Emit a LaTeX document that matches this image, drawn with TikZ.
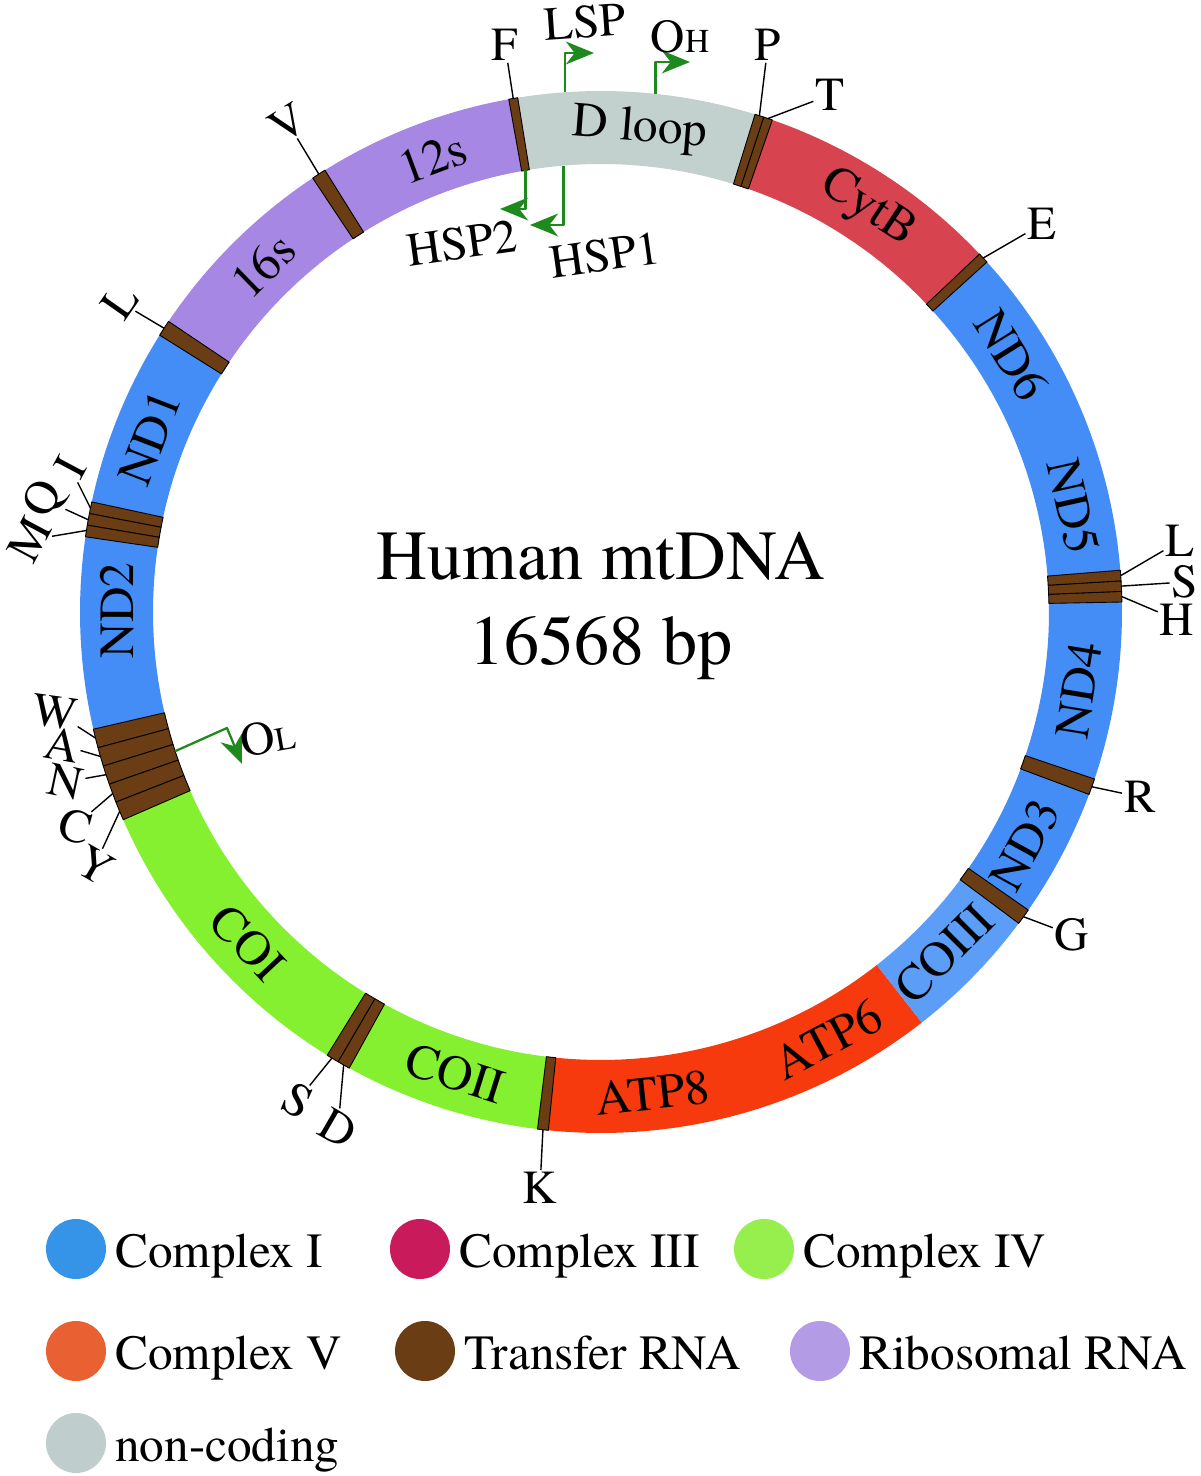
\documentclass[tikz,border=0pt]{standalone}
\usepackage{fontspec}
\setmainfont{texgyretermes-regular.otf}
\usetikzlibrary{arrows.meta}
\definecolor{ndblue}{HTML}{448DF6}
\definecolor{coblue}{HTML}{5B9DF7}
\definecolor{cytred}{HTML}{D7434E}
\definecolor{grn}{HTML}{84F02F}
\definecolor{atpred}{HTML}{F63A0E}
\definecolor{rrna}{HTML}{A687E4}
\definecolor{dloop}{HTML}{C2D0CE}
\definecolor{trna}{HTML}{6A3D14}
\definecolor{promgreen}{HTML}{1E8A1E}
\definecolor{cI}{HTML}{3593E8}
\definecolor{cIII}{HTML}{C91A5B}
\definecolor{cIV}{HTML}{96EF4C}
\definecolor{cV}{HTML}{E96033}
\definecolor{rrnaleg}{HTML}{B49BE6}
\definecolor{ncleg}{HTML}{BFCECC}
\begin{document}
\begin{tikzpicture}[x=0.02cm,y=0.02cm,line join=round,
	lbl/.style={font=\fontsize{27}{27}\selectfont,inner sep=1pt},
	gene/.style={font=\fontsize{28}{28}\selectfont,inner sep=0pt},
	lead/.style={line width=0.8pt},
	band/.style={fill=trna,draw=black,line width=0.5pt},
	prom/.style={-{Stealth[length=16pt,width=13pt,inset=5pt]},draw=promgreen,line width=1.3pt},
	legtext/.style={font=\fontsize{28}{28}\selectfont,anchor=base west,inner sep=0pt}]
	\useasboundingbox (-601,-864) rectangle (599,612);
	\def\rout{521}
	\def\rin{448}
	\def\rmid{484}
	% genes
	\foreach \a/\b/\c in {-36.7/42.8/ndblue,42.8/71.3/cytred,71.3/99.7/dloop,99.7/147/rrna,
		147/202.5/ndblue,202.5/263.6/grn,263.6/308/atpred,308/323.6/coblue}
	\fill[\c] (\a:\rout) arc[start angle=\a,end angle=\b,radius=\rout]
	-- (\b:\rin) arc[start angle=\b,end angle=\a,radius=\rin] -- cycle;
	% tRNAs
	\foreach \a/\b in {1.1/2.27,2.27/3.43,3.43/4.6,42.2/43.4,70.8/71.8,71.8/72.8,99.2/100.2,
		122/123.6,146.1/147.9,167.8/169.1,169.1/170.4,170.4/171.7,193/195.1,195.1/197.2,
		197.2/199.3,199.3/201.4,201.4/203.5,238.3/239.7,239.7/241.1,263/264.2,323.3/325.1,339.5/341.3}
	\draw[band] (\a:\rout) arc[start angle=\a,end angle=\b,radius=\rout]
	-- (\b:\rin) arc[start angle=\b,end angle=\a,radius=\rin] -- cycle;
	\foreach \a/\r/\t [count=\i] in {85.4/-4.6/D loop,56.5/-33.5/CytB,32/-58/ND6,12.6/-77.4/ND5,
		-9.3/80.7/ND4,-28.8/61.2/ND3,-44.9/45.1/COIII,-62.1/27.9/ATP6,-83.9/6.1/ATP8,
		-107.5/-17.5/COII,223.1/-46.9/COI,179.8/89.8/ND2,158.9/68.9/ND1,134.3/44.3/16s,110.3/20.3/12s}
	\node[gene,rotate=\r] (g\i) at (\a:\rmid) {\t};
	
	\foreach \n/\a in {F/99.7,P/72.3,T/71.3,E/42.8,Lr/4,Sr/2.85,H/1.7,R/340.4,G/324.2,K/263.6,
		D/240.4,Sl/238.9,Y/202.5,C/200.4,N/198.2,A/196.1,W/194,M/171,Q/169.8,I/168.5,Ll/147,V/122.8}
	\coordinate (t\n) at (\a:\rout);
	\node[lbl] (F) at (-96,567) {F};
	\node[lbl] (P) at (167,567) {P};
	\node[lbl] (T) at (229,517) {T};
	\node[lbl] (E) at (441,388) {E};
	\node[lbl] (Lr) at (579,71) {L};
	\node[lbl] (Sr) at (584,30) {S};
	\node[lbl] (H) at (576,-8) {H};
	\node[lbl] (R) at (539,-185) {R};
	\node[lbl] (G) at (471,-323) {G};
	\node[lbl] (K) at (-61,-576) {K};
	\node[lbl,rotate=-30] (D) at (-263,-516) {D};
	\node[lbl,rotate=-30] (Sl) at (-303,-488) {S};
	\node[lbl,rotate=-30] (Y) at (-506,-253) {Y};
	\node[lbl,rotate=-18] (C) at (-526,-214) {C};
	\node[lbl,rotate=-12] (N) at (-536,-170) {N};
	\node[lbl,rotate=-10] (A) at (-539,-133) {A};
	\node[lbl,rotate=-8] (W) at (-546,-100) {W};
	\node[lbl,rotate=62] (M) at (-571,72) {M};
	\node[lbl,rotate=62] (Q) at (-556,112) {Q};
	\node[lbl,rotate=62] (I) at (-531,145) {I};
	\node[lbl,rotate=55] (Ll) at (-481,310) {L};
	\node[lbl,rotate=32] (V) at (-313,489) {V};
	\foreach \n in {F,P,T,E,Lr,Sr,H,R,G,K,D,Sl,Y,C,N,A,W,M,Q,I,Ll,V}
	\draw[lead] (t\n) -- (\n);
	
	% promoters and origins
	\coordinate (lspA) at (94:\rout);
	\coordinate (lspB) at (-7,559);
	\coordinate (ohA) at (84:\rout);
	\coordinate (ohB) at (89,550);
	\coordinate (hsptwoA) at (99.7:\rin);
	\coordinate (hsptwoB) at (-101,403);
	\coordinate (hsponeA) at (94.8:\rin);
	\coordinate (hsponeB) at (-71,387);
	\coordinate (olA) at (198.1:\rin);
	\coordinate (olB) at (-374,-116);
	\coordinate (olC) at (-359,-152);
	\draw[prom] (lspA) |- (lspB);
	\draw[prom] (ohA) |- (ohB);
	\draw[prom] (hsptwoA) |- (hsptwoB);
	\draw[prom] (hsponeA) |- (hsponeB);
	\draw[prom] (olA) -- (olB) -- (olC);
	\node[lbl,rotate=4] (LSP) at (-16,590) {LSP};
	\node[lbl] (OH) at (79,575) {O{\fontsize{19}{19}\selectfont H}};
	\node[lbl,rotate=8] (HSPtwo) at (-139,369) {HSP2};
	\node[lbl,rotate=8] (HSPone) at (4,357) {HSP1};
	\node[lbl,rotate=10] (OL) at (-333,-125) {O{\fontsize{19}{19}\selectfont L}};
	
	\node[font=\fontsize{40}{40}\selectfont,anchor=base] (title) at (0,32) {Human mtDNA};
	\node[font=\fontsize{40}{40}\selectfont,anchor=base] (size) at (0,-53) {16568 bp};
	
	% legend
	\foreach \x/\y/\c/\t [count=\i] in {-525/-637/cI/Complex I,-181/-637/cIII/Complex III,
		163/-637/cIV/Complex IV,-525/-739/cV/Complex V,-176/-739/trna/Transfer RNA,
		219/-739/rrnaleg/Ribosomal RNA,-525/-831/ncleg/non-coding}{
		\fill[\c] (\x,\y) circle (30);
		\node[legtext] (leg\i) at (\x+39,\y-18) {\t};
	}
\end{tikzpicture}
\end{document}
